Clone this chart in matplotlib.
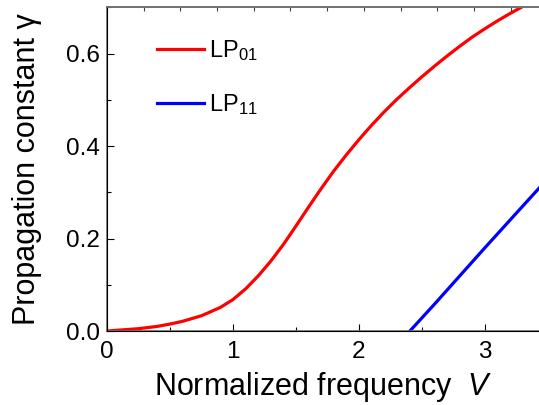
import numpy as np
import matplotlib
matplotlib.use('Agg')
import matplotlib.pyplot as plt
from matplotlib.ticker import MultipleLocator, FormatStrFormatter

plt.rcParams['font.family'] = ['Liberation Sans', 'DejaVu Sans']
plt.rcParams['mathtext.fontset'] = 'custom'
plt.rcParams['mathtext.rm'] = 'Liberation Sans'
plt.rcParams['mathtext.it'] = 'Liberation Sans:italic'

# LP01 curve
v_lp01 = [0.0, 0.25, 0.4, 0.5, 0.6, 0.75, 0.9, 1.0, 1.1, 1.2, 1.3, 1.4, 1.5, 1.6, 1.7,
          1.8, 1.9, 2.0, 2.1, 2.2, 2.3, 2.4, 2.5, 2.6, 2.7, 2.8, 2.9, 3.0, 3.1, 3.2, 3.3, 3.45]
b_lp01 = [0.0, 0.005, 0.010, 0.015, 0.021, 0.033, 0.051, 0.068, 0.091, 0.119, 0.151, 0.187,
          0.227, 0.268, 0.308, 0.346, 0.381, 0.414, 0.445, 0.474, 0.501, 0.526, 0.550, 0.573,
          0.595, 0.616, 0.636, 0.654, 0.671, 0.687, 0.702, 0.723]

# LP11 curve
v_lp11 = [2.405, 2.6, 2.8, 3.0, 3.2, 3.43, 3.5]
b_lp11 = [0.0, 0.058, 0.119, 0.18, 0.24, 0.309, 0.33]

fig = plt.figure(figsize=(5.39, 4.05), dpi=100)
ax = fig.add_axes([0.1985, 0.1827, 0.8015, 0.7988])

ax.plot(v_lp01, b_lp01, color='#ff0000', lw=2.3, label='LP$_{01}$')
ax.plot(v_lp11, b_lp11, color='#0000ff', lw=2.3, label='LP$_{11}$')

ax.set_xlim(0, 3.43)
ax.set_ylim(0, 0.7)
ax.xaxis.set_major_locator(MultipleLocator(1))
ax.xaxis.set_minor_locator(MultipleLocator(0.5))
ax.yaxis.set_major_locator(MultipleLocator(0.2))
ax.yaxis.set_minor_locator(MultipleLocator(0.1))
ax.yaxis.set_major_formatter(FormatStrFormatter('%.1f'))
ax.tick_params(which='both', direction='in', labelsize=17.5, top=False, right=False)
ax.tick_params(which='major', length=5, width=0.8, pad=5)
ax.tick_params(axis='x', which='major', pad=7)
ax.tick_params(which='minor', length=3, width=0.8)

for s in ['left', 'bottom', 'top']:
    ax.spines[s].set_color('#707070')
    ax.spines[s].set_linewidth(1.2)
ax.spines['right'].set_visible(False)

# top axis ticks
ax2 = ax.twiny()
ax2.set_xlim(0, 3.43 / 0.2913)
ax2.xaxis.set_major_locator(MultipleLocator(1))
ax2.tick_params(axis='x', direction='in', length=3, width=0.8, labeltop=False, color='#404040')
ax2.spines['right'].set_visible(False)
ax2.spines['top'].set_color('#707070')
ax2.spines['top'].set_linewidth(1.2)

ax.set_xlabel('Normalized frequency  $\\it{V}$', fontsize=22, labelpad=5)
ax.set_ylabel('Propagation constant γ', fontsize=22, labelpad=17)

ax.legend(loc='upper left', bbox_to_anchor=(0.066, 0.972), frameon=False, fontsize=17,
          handlelength=2.0, handletextpad=0.2, labelspacing=1.25)

fig.savefig('out.png', dpi=100)
